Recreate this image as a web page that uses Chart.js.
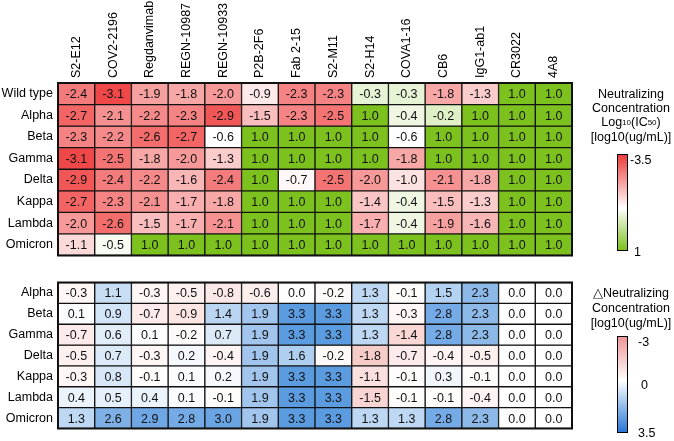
<!DOCTYPE html>
<html>
<head>
<meta charset="utf-8">
<script src="https://cdn.jsdelivr.net/npm/chart.js@4.4.1/dist/chart.umd.min.js"></script>
<style>
  body { margin: 0; background: #fff; width: 674px; height: 441px; overflow: hidden; position: relative;
         font-family: "Liberation Sans", Arial, sans-serif; color: #000; }
  canvas { position: absolute; left: 0; }
  .lg { position: absolute; width: 104px; text-align: center; font-size: 12.5px; line-height: 14px; white-space: nowrap; }
  .lg sub { font-size: 8px; vertical-align: 1px; }
  .cbar { position: absolute; left: 617px; width: 11px; height: 97px; border: 1.5px solid #000; box-sizing: border-box; }
  .tk { position: absolute; font-size: 12.5px; line-height: 14px; }
</style>
</head>
<body>
<canvas id="topMap" width="674" height="268" style="top:0"></canvas>
<canvas id="deltaMap" width="674" height="171" style="top:270px"></canvas>

<div class="lg" style="left:579px; top:87px">Neutralizing<br>Concentration<br>Log<sub>10</sub>(IC<sub>50</sub>)<br>[log10(ug/mL)]</div>
<div class="cbar" style="top:154px; background:linear-gradient(to bottom, rgb(238,60,60) 0%, #fff 56%, rgb(125,193,30) 100%)"></div>
<div class="tk" style="left:630px; top:153px">-3.5</div>
<div class="tk" style="left:634px; top:245px">1</div>

<div class="lg" style="left:579px; top:286px; line-height:15px">△Neutralizing<br>Concentration<br>[log10(ug/mL)]</div>
<div class="cbar" style="top:336px; background:linear-gradient(to bottom, rgb(240,150,150) 0%, #fff 46%, rgb(40,120,215) 100%)"></div>
<div class="tk" style="left:638px; top:335px">-3</div>
<div class="tk" style="left:641px; top:378px">0</div>
<div class="tk" style="left:638px; top:426px">3.5</div>

<script>
const FONT = '"Liberation Sans", Arial, sans-serif';

const antibodies = ['S2-E12', 'COV2-2196', 'Regdanvimab', 'REGN-10987', 'REGN-10933', 'P2B-2F6', 'Fab 2-15',
  'S2-M11', 'S2-H14', 'COVA1-16', 'CB6', 'IgG1-ab1', 'CR3022', '4A8'];
const topRowNames = ['Wild type', 'Alpha', 'Beta', 'Gamma', 'Delta', 'Kappa', 'Lambda', 'Omicron'];
const deltaRowNames = ['Alpha', 'Beta', 'Gamma', 'Delta', 'Kappa', 'Lambda', 'Omicron'];

// log10(IC50) per variant
const icWildType = [-2.4, -3.1, -1.9, -1.8, -2.0, -0.9, -2.3, -2.3, -0.3, -0.3, -1.8, -1.3, 1.0, 1.0];
const icAlpha    = [-2.7, -2.1, -2.2, -2.3, -2.9, -1.5, -2.3, -2.5, 1.0, -0.4, -0.2, 1.0, 1.0, 1.0];
const icBeta     = [-2.3, -2.2, -2.6, -2.7, -0.6, 1.0, 1.0, 1.0, 1.0, -0.6, 1.0, 1.0, 1.0, 1.0];
const icGamma    = [-3.1, -2.5, -1.8, -2.0, -1.3, 1.0, 1.0, 1.0, 1.0, -1.8, 1.0, 1.0, 1.0, 1.0];
const icDelta    = [-2.9, -2.4, -2.2, -1.6, -2.4, 1.0, -0.7, -2.5, -2.0, -1.0, -2.1, -1.8, 1.0, 1.0];
const icKappa    = [-2.7, -2.3, -2.1, -1.7, -1.8, 1.0, 1.0, 1.0, -1.4, -0.4, -1.5, -1.3, 1.0, 1.0];
const icLambda   = [-2.0, -2.6, -1.5, -1.7, -2.1, 1.0, 1.0, 1.0, -1.7, -0.4, -1.9, -1.6, 1.0, 1.0];
const icOmicron  = [-1.1, -0.5, 1.0, 1.0, 1.0, 1.0, 1.0, 1.0, 1.0, 1.0, 1.0, 1.0, 1.0, 1.0];

// change vs wild type
const dAlpha   = [-0.3, 1.1, -0.3, -0.5, -0.8, -0.6, 0.0, -0.2, 1.3, -0.1, 1.5, 2.3, 0.0, 0.0];
const dBeta    = [0.1, 0.9, -0.7, -0.9, 1.4, 1.9, 3.3, 3.3, 1.3, -0.3, 2.8, 2.3, 0.0, 0.0];
const dGamma   = [-0.7, 0.6, 0.1, -0.2, 0.7, 1.9, 3.3, 3.3, 1.3, -1.4, 2.8, 2.3, 0.0, 0.0];
const dDelta   = [-0.5, 0.7, -0.3, 0.2, -0.4, 1.9, 1.6, -0.2, -1.8, -0.7, -0.4, -0.5, 0.0, 0.0];
const dKappa   = [-0.3, 0.8, -0.1, 0.1, 0.2, 1.9, 3.3, 3.3, -1.1, -0.1, 0.3, -0.1, 0.0, 0.0];
const dLambda  = [0.4, 0.5, 0.4, 0.1, -0.1, 1.9, 3.3, 3.3, -1.5, -0.1, -0.1, -0.4, 0.0, 0.0];
const dOmicron = [1.3, 2.6, 2.9, 2.8, 3.0, 1.9, 3.3, 3.3, 1.3, 1.3, 2.8, 2.3, 0.0, 0.0];

const icRows = [icWildType, icAlpha, icBeta, icGamma, icDelta, icKappa, icLambda, icOmicron];
const deltaRows = [dAlpha, dBeta, dGamma, dDelta, dKappa, dLambda, dOmicron];

function mix(c, t) {
  t = Math.max(0, Math.min(1, t));
  return `rgb(${Math.round(255 + (c[0] - 255) * t)},${Math.round(255 + (c[1] - 255) * t)},${Math.round(255 + (c[2] - 255) * t)})`;
}
// red (-3.5) -> white (-0.6) -> green (1)
function icColor(v) {
  return v <= -0.6 ? mix([238, 43, 43], (-0.6 - v) / 2.9) : mix([125, 193, 30], (v + 0.6) / 1.6);
}
// red (-3) -> white (0) -> blue (3.5)
function deltaColor(v) {
  return v < 0 ? mix([240, 170, 165], -v / 3) : mix([81, 149, 222], v / 3.5);
}

function cellText(rows, showColumns) {
  return {
    id: 'cellText',
    afterDatasetsDraw(chart) {
      const ctx = chart.ctx;
      const a = chart.chartArea;
      ctx.save();
      ctx.font = '12.5px ' + FONT;
      ctx.fillStyle = '#111';
      ctx.textAlign = 'center';
      ctx.textBaseline = 'middle';
      rows.forEach((vals, i) => {
        chart.getDatasetMeta(i).data.forEach((bar, j) => {
          ctx.fillText(vals[j].toFixed(1), bar.x, (bar.y + bar.base) / 2 + 1);
        });
      });
      ctx.lineWidth = 2;
      ctx.strokeStyle = '#111';
      ctx.strokeRect(a.left, a.top, a.right - a.left, a.bottom - a.top);

      // column names, vertical, starting just above the grid
      if (showColumns) {
        const xs = chart.scales.x;
        ctx.fillStyle = '#000';
        ctx.textAlign = 'left';
        antibodies.forEach((name, i) => {
          ctx.save();
          ctx.translate(xs.getPixelForValue(i), a.top - 5);
          ctx.rotate(-Math.PI / 2);
          ctx.fillText(name, 0, 0);
          ctx.restore();
        });
      }
      ctx.restore();
    }
  };
}

function makeHeatmap(id, rowNames, rows, colorOf, showColumns, pad) {
  return new Chart(document.getElementById(id), {
    type: 'bar',
    data: {
      labels: antibodies,
      datasets: rows.map((vals, i) => ({
        label: rowNames[i],
        data: vals.map(() => 1),
        backgroundColor: vals.map(colorOf),
        borderColor: '#111',
        borderWidth: 1,
        borderSkipped: false,
        barPercentage: 1,
        categoryPercentage: 1,
        yAxisID: 'y'
      }))
    },
    options: {
      responsive: false,
      animation: false,
      events: [],
      layout: { padding: pad },
      plugins: { legend: { display: false }, tooltip: { enabled: false } },
      scales: {
        x: { type: 'category', stacked: true, display: false },
        y: { type: 'linear', stacked: true, min: 0, max: rows.length, reverse: true, display: false },
        rows: {
          type: 'category', axis: 'y', labels: rowNames, position: 'left', offset: true,
          grid: { display: false, drawTicks: false }, border: { display: false },
          ticks: { padding: 5, color: '#000', font: { size: 12.5, family: FONT } },
          afterFit: s => { s.width = 58; }
        }
      }
    },
    plugins: [cellText(rows, showColumns)]
  });
}

makeHeatmap('topMap', topRowNames, icRows, icColor, true, { top: 83, left: 0, right: 102, bottom: 3 });
makeHeatmap('deltaMap', deltaRowNames, deltaRows, deltaColor, false, { top: 11, left: 0, right: 102, bottom: 1 });
</script>
</body>
</html>
